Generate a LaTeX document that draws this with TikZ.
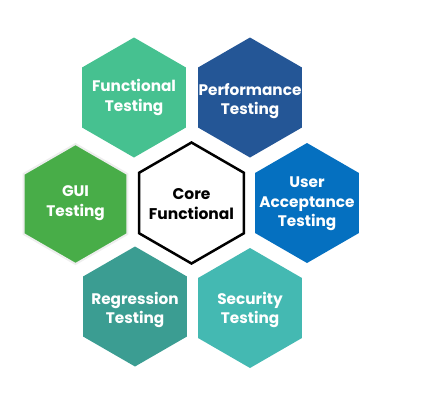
\documentclass[tikz,border=0pt]{standalone}
\usepackage{fontspec}
\setmainfont{Poppins}
\usetikzlibrary{shapes.geometric}
\definecolor{cfunc}{RGB}{70,193,144}
\definecolor{cperf}{RGB}{36,86,150}
\definecolor{cgui}{RGB}{72,173,72}
\definecolor{cuser}{RGB}{5,112,192}
\definecolor{creg}{RGB}{59,157,146}
\definecolor{csec}{RGB}{68,185,178}
\definecolor{cedge}{RGB}{238,238,238}
\tikzset{
  hexa/.style={regular polygon, regular polygon sides=6, shape border rotate=30,
    minimum size=120pt, inner sep=0pt, draw=none, fill=#1},
  lbl/.style={align=center, text=white, font=\bfseries\fontsize{15.3}{19.5}\selectfont, inner sep=0pt},
  corelbl/.style={align=center, text=black, font=\bfseries\fontsize{15.5}{20}\selectfont, inner sep=0pt}
}
\begin{document}
\begin{tikzpicture}[x=1pt,y=-1pt]
\useasboundingbox (0,0) rectangle (443,405);
\node[hexa=cfunc] (hf) at (134,97.5) {};
\node[hexa=cperf] (hp) at (250,97.5) {};
\node[hexa=cgui, draw=cedge, line width=2pt] (hg) at (75.5,204) {};
\node[hexa=white, draw=black, line width=2.5pt, minimum size=121pt] (hc) at (191.5,203) {};
\node[hexa=cuser] (hu) at (307,203) {};
\node[hexa=creg] (hr) at (135,306.5) {};
\node[hexa=csec] (hs) at (250,308) {};
\node[lbl] (tf) at (134,97.5) {Functional\\Testing};
\node[lbl] (tp) at (250,101) {Performance\\Testing};
\node[lbl] (tg) at (75.5,203) {GUI\\Testing};
\node[corelbl] (tc) at (191.5,204) {Core\\Functional};
\node[lbl] (tu) at (307,204) {User\\Acceptance\\Testing};
\node[lbl] (tr) at (135,310) {Regression\\Testing};
\node[lbl] (ts) at (250,310) {Security\\Testing};
\end{tikzpicture}
\end{document}
